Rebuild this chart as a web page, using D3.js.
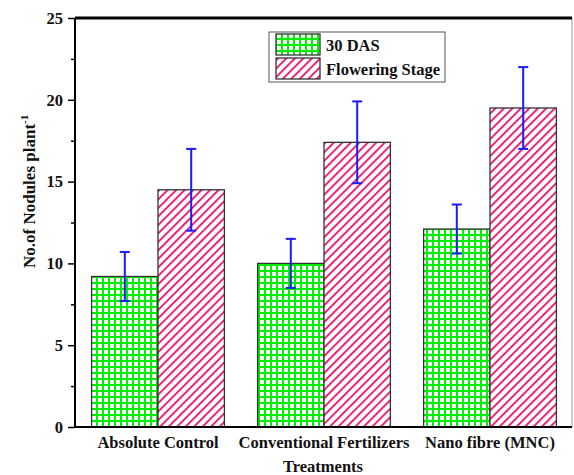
<!DOCTYPE html>
<html lang="en">
<head>
<meta charset="utf-8">
<title>Nodules per plant</title>
<script src="https://cdn.jsdelivr.net/npm/d3@7"></script>
<style>
  body { margin: 0; background: white; }
  svg text { font-family: "Liberation Serif", "Times New Roman", serif; font-weight: bold; fill: #111; }
</style>
</head>
<body>
<div id="chart"></div>
<script>
// data
var treatments = ["Absolute Control", "Conventional Fertilizers", "Nano fibre (MNC)"];
var seriesNames = ["30 DAS", "Flowering Stage"];
var das30 = [9.2, 10.0, 12.1];
var das30Err = [1.5, 1.5, 1.5];
var flowering = [14.5, 17.4, 19.5];
var floweringErr = [2.5, 2.5, 2.5];
var yTicks = [0, 5, 10, 15, 20, 25];
var yMinorTicks = [2.5, 7.5, 12.5, 17.5, 22.5];

var W = 574, H = 475;
// plot box (note: "top" is reserved on window, so use pTop etc)
var pLeft = 75, pRight = 572, pTop = 18, pBottom = 427;

var svg = d3.select("#chart").append("svg")
    .attr("width", W).attr("height", H);

// patterns
var defs = svg.append("defs");
var grid = defs.append("pattern").attr("id", "grid")
    .attr("patternUnits", "userSpaceOnUse").attr("width", 6).attr("height", 6);
grid.append("rect").attr("width", 6).attr("height", 6).attr("fill", "white");
grid.append("rect").attr("x", 0).attr("y", 0).attr("width", 6).attr("height", 2).attr("fill", "#00ee00");
grid.append("rect").attr("x", 0).attr("y", 0).attr("width", 2).attr("height", 6).attr("fill", "#00ee00");

var hatch = defs.append("pattern").attr("id", "hatch")
    .attr("patternUnits", "userSpaceOnUse").attr("width", 6).attr("height", 6)
    .attr("patternTransform", "rotate(45)");
hatch.append("rect").attr("width", 6).attr("height", 6).attr("fill", "white");
hatch.append("rect").attr("x", 0).attr("y", 0).attr("width", 1.8).attr("height", 6).attr("fill", "#e8106e");

var x = d3.scaleBand().domain(treatments).range([pLeft, pRight + 1])
    .paddingInner(0.2).paddingOuter(0.1);
var xs = d3.scaleBand().domain(seriesNames).range([0, x.bandwidth()]);
var y = d3.scaleLinear().domain([0, 25]).range([pBottom, pTop]);

var series = [
  {name: seriesNames[0], vals: das30, err: das30Err, fill: "url(#grid)"},
  {name: seriesNames[1], vals: flowering, err: floweringErr, fill: "url(#hatch)"}
];

// bars
series.forEach(function(s) {
  svg.append("g").selectAll("rect")
    .data(treatments)
    .enter().append("rect")
    .attr("x", function(d) { return x(d) + xs(s.name); })
    .attr("y", function(d, i) { return y(s.vals[i]); })
    .attr("width", xs.bandwidth())
    .attr("height", function(d, i) { return y(0) - y(s.vals[i]); })
    .attr("fill", s.fill)
    .attr("stroke", "#333")
    .attr("stroke-width", 1.3);
});

// error bars
series.forEach(function(s) {
  var g = svg.append("g").attr("stroke", "#1a1aff").attr("stroke-width", 2);
  treatments.forEach(function(t, i) {
    var cx = x(t) + xs(s.name) + xs.bandwidth() / 2;
    var hi = y(s.vals[i] + s.err[i]), lo = y(s.vals[i] - s.err[i]);
    g.append("line").attr("x1", cx).attr("x2", cx).attr("y1", hi).attr("y2", lo);
    g.append("line").attr("x1", cx - 5).attr("x2", cx + 5).attr("y1", hi).attr("y2", hi);
    g.append("line").attr("x1", cx - 5).attr("x2", cx + 5).attr("y1", lo).attr("y2", lo);
  });
});

// frame
svg.append("line").attr("x1", pRight).attr("x2", pRight).attr("y1", pTop).attr("y2", pBottom)
  .attr("stroke", "#999").attr("stroke-width", 1);
svg.append("line").attr("x1", pLeft).attr("x2", pRight).attr("y1", pTop).attr("y2", pTop)
  .attr("stroke", "black").attr("stroke-width", 3);

// y axis
var yAxis = svg.append("g").attr("transform", "translate(" + pLeft + ",0)")
  .call(d3.axisLeft(y).tickValues(yTicks).tickSize(7).tickPadding(5).tickFormat(d3.format("d")));
yAxis.select(".domain").attr("stroke-width", 2).attr("d", "M0," + pTop + "V" + pBottom);
yAxis.selectAll(".tick line").attr("stroke-width", 1.5);
yAxis.selectAll("text").attr("font-size", 16.5).attr("font-family", "Liberation Serif").attr("font-weight", "bold").attr("fill", "#111");
svg.append("g").attr("transform", "translate(" + pLeft + ",0)")
  .call(d3.axisLeft(y).tickValues(yMinorTicks).tickSize(4).tickFormat(""))
  .call(function(g) { g.select(".domain").remove(); g.selectAll("line").attr("stroke-width", 1.5); });

// x axis
var xAxis = svg.append("g").attr("transform", "translate(0," + pBottom + ")")
  .call(d3.axisBottom(x).tickSize(0).tickPadding(9));
xAxis.select(".domain").attr("stroke-width", 2).attr("d", "M" + pLeft + ",0H" + pRight);
xAxis.selectAll("text").attr("font-size", 16.5).attr("font-family", "Liberation Serif").attr("font-weight", "bold").attr("fill", "#111");

// axis titles
svg.append("text").attr("x", 323).attr("y", 472).attr("text-anchor", "middle")
  .attr("font-size", 16.5).text("Treatments");
var yt = svg.append("text").attr("transform", "translate(35,268) rotate(-90)")
  .attr("text-anchor", "start").attr("font-size", 17);
yt.append("tspan").text("No.of Nodules plant");
yt.append("tspan").attr("font-size", 11).attr("dy", -7).text("-1");

// legend
var lg = svg.append("g").attr("transform", "translate(269,32)");
lg.append("rect").attr("width", 176).attr("height", 50)
  .attr("fill", "white").attr("stroke", "#555").attr("stroke-width", 1);
series.forEach(function(s, i) {
  lg.append("rect").attr("x", 7).attr("y", 2 + i * 24).attr("width", 44).attr("height", 21)
    .attr("fill", s.fill).attr("stroke", "#333").attr("stroke-width", 1.3);
  lg.append("text").attr("x", 57).attr("y", 19 + i * 24).attr("font-size", 16.5).text(s.name);
});
</script>
</body>
</html>
